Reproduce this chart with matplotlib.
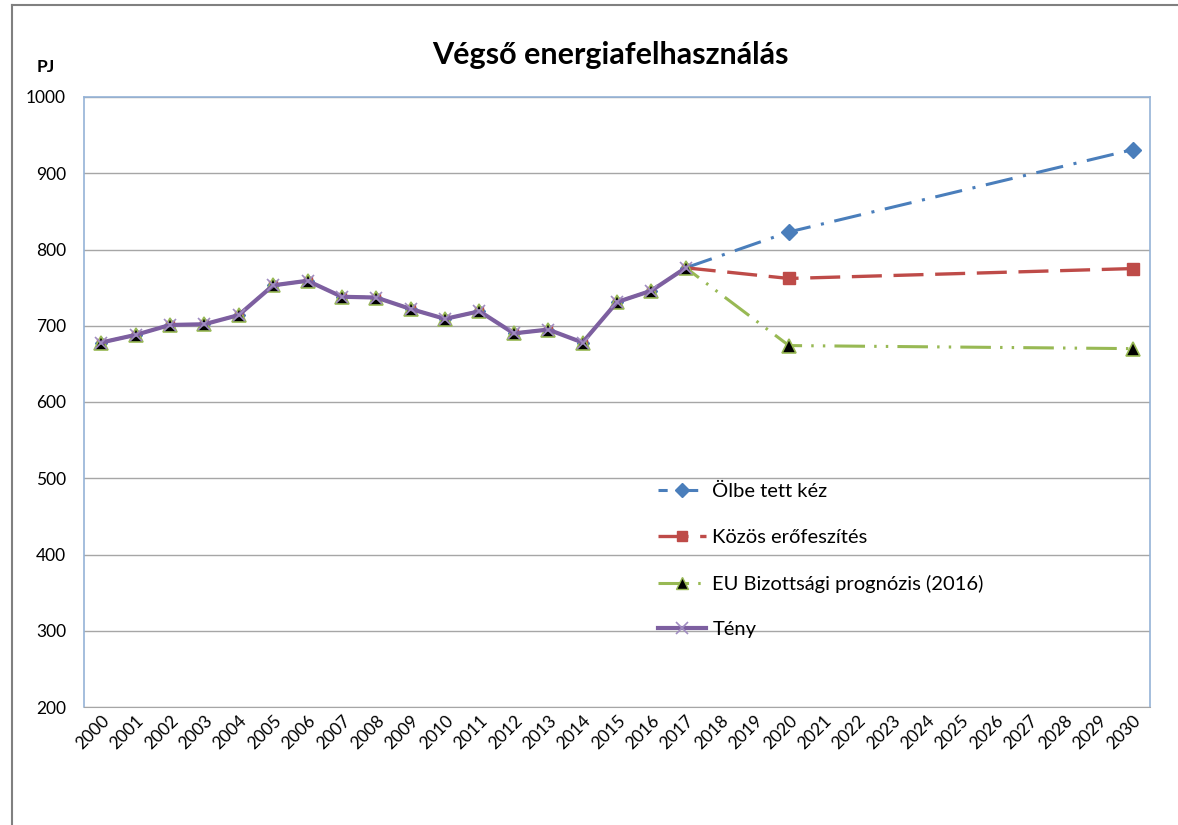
import matplotlib
matplotlib.use("Agg")
import matplotlib.pyplot as plt
from matplotlib.lines import Line2D
import numpy as np

years = [str(y) for y in range(2000, 2031)]
hist_years = list(range(2000, 2018))
teny = [678, 688, 701, 702, 714, 753, 759, 738, 737, 722, 709, 719, 690, 695, 678, 731, 746, 776]
olbe_years = [2017, 2020, 2030]
olbe = [776, 823, 931]
kozos_years = [2017, 2020, 2030]
kozos = [776, 762, 775]
eu_years = hist_years + [2020, 2030]
eu = teny + [674, 670]

title = "Végső energiafelhasználás"
ylabel = "PJ"
yticks = [200, 300, 400, 500, 600, 700, 800, 900, 1000]

plt.rcParams['font.family'] = ['Lato', 'DejaVu Sans']

fig = plt.figure(figsize=(11.78, 8.25), dpi=100)
ax = fig.add_axes([84/1178, 1-707/825, (1150-84)/1178, (707-97)/825])

idx = {y: i for i, y in enumerate(range(2000, 2031))}

c_blue = '#4A7EBB'
c_red = '#BE4B48'
c_green = '#98B954'
c_purple = '#7D5FA0'

# historical hidden markers for blue and red
ax.plot([idx[y] for y in hist_years], teny, ls='none', marker='D', ms=6, color=c_blue, zorder=2)
ax.plot([idx[y] for y in hist_years], teny, ls='none', marker='s', ms=6, color=c_red, zorder=2)

ax.plot([idx[y] for y in olbe_years], olbe, color=c_blue, lw=2.2, dashes=(9, 3.5, 1, 3.5),
        marker='D', ms=8, markevery=[1, 2], zorder=3)
ax.plot([idx[y] for y in kozos_years], kozos, color=c_red, lw=2.4, dashes=(9, 3.5),
        marker='s', ms=8, markevery=[1, 2], zorder=3)
ax.plot([idx[y] for y in eu_years], eu, color=c_green, lw=2.2, dashes=(10, 3, 0.8, 3, 0.8, 3),
        marker='^', ms=10, mfc='black', mec=c_green, mew=1.2, zorder=4)
ax.plot([idx[y] for y in hist_years], teny, color=c_purple, lw=3, marker='x', ms=8,
        mec='#A08CC0', mew=1.2, zorder=5)

ax.set_xlim(-0.5, 30.5)
ax.set_ylim(200, 1000)
ax.set_yticks(yticks)
ax.set_yticklabels([str(v) for v in yticks], fontsize=12.5)
ax.set_xticks(range(len(years)))
ax.set_xticklabels(years, rotation=45, ha='right', va='top', rotation_mode='anchor', fontsize=12.5)
ax.tick_params(axis='y', length=0, pad=13)
ax.tick_params(axis='x', length=0, pad=4)
ax.grid(axis='y', color='#A6A6A6', lw=1)
ax.set_axisbelow(True)
for s in ['top', 'right', 'left']:
    ax.spines[s].set_color('#95B3D7')
    ax.spines[s].set_linewidth(1.2)
ax.spines['bottom'].set_color('#A6A6A6')

fig.text(610/1178, 1-55/825, title, ha='center', va='center', fontsize=22, fontweight='bold')
fig.text(46/1178, 1-67/825, ylabel, ha='center', va='center', fontsize=12.5, fontweight='bold')

handles = [
    Line2D([], [], color=c_blue, lw=2.2, dashes=(3, 3, 1, 3), marker='D', ms=7),
    Line2D([], [], color=c_red, lw=2.4, dashes=(9, 3.5), marker='s', ms=7),
    Line2D([], [], color=c_green, lw=2.2, dashes=(10, 3, 0.8, 3), marker='^', ms=9, mfc='black', mec=c_green),
    Line2D([], [], color=c_purple, lw=3, marker='x', ms=9, mec='#A08CC0', mew=1.2),
]
labels = ["Ölbe tett kéz", "Közös erőfeszítés", "EU Bizottsági prognózis (2016)", "Tény"]
fig.legend(handles, labels, loc='upper left', bbox_to_anchor=(640/1178, 1-465/825),
           frameon=False, fontsize=14.5, handlelength=2.4, handletextpad=0.3, labelspacing=1.42)

# outer frame (left and top)
fig.add_artist(Line2D([12/1178, 12/1178], [0, 1-5/825], color='#808080', lw=1.5, transform=fig.transFigure))
fig.add_artist(Line2D([12/1178, 1], [1-5/825, 1-5/825], color='#808080', lw=1.5, transform=fig.transFigure))

fig.savefig("out.png", dpi=100, facecolor='white')
